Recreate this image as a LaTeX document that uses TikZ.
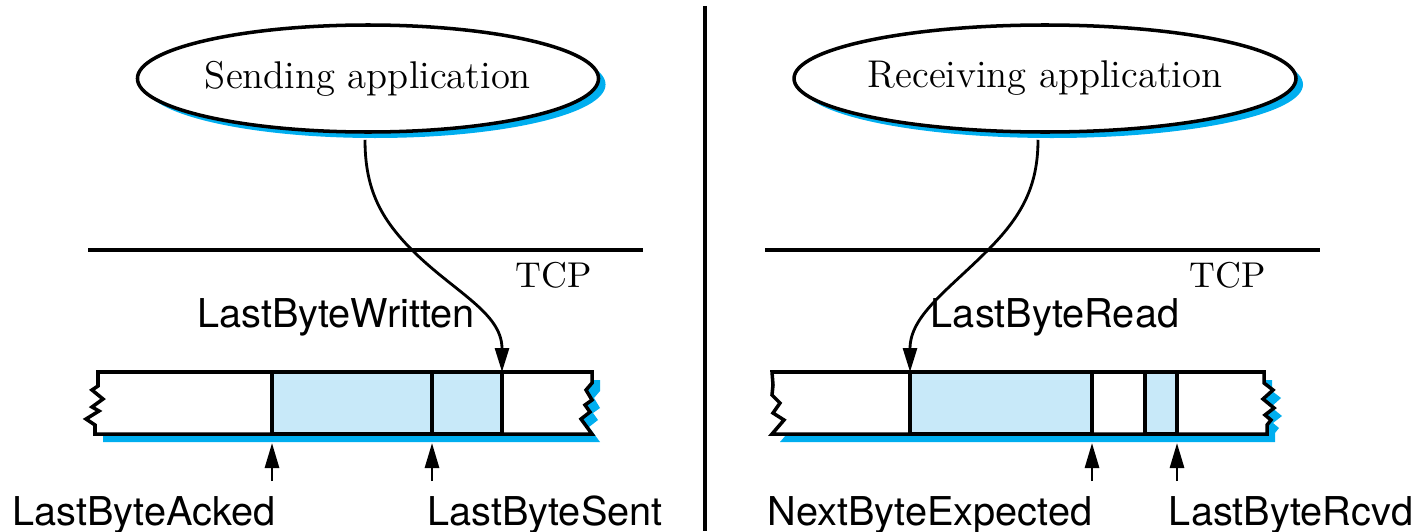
\documentclass[tikz,border=0pt]{standalone}
\usepackage{fontspec}
\setsansfont{TeX Gyre Heros}
\usetikzlibrary{arrows.meta,shadows,shapes.geometric}

\definecolor{tcpblue}{HTML}{00AEEF}
\definecolor{tcplight}{HTML}{C8E9F9}

\tikzset{
  app/.style={ellipse, draw, line width=1pt, fill=white, inner sep=0pt,
    minimum width=4cm, minimum height=1.07cm, font=\fontsize{11}{13}\selectfont,
    drop shadow={shadow xshift=0.07cm, shadow yshift=-0.06cm, fill=tcpblue, opacity=1}},
  layer/.style={line width=0.9pt},
  tcplabel/.style={anchor=base, font=\fontsize{10.2}{12}\selectfont},
  ptr/.style={anchor=base, font=\sffamily\fontsize{11.3}{13}\selectfont},
  bufshadow/.style={fill=tcpblue},
  bufbox/.style={fill=white, draw, line width=1pt},
  slot/.style={fill=tcplight, draw, line width=1pt},
  ptrline/.style={line width=0.8pt, -{Triangle[length=0.24cm,width=0.14cm]}},
  ptrarrow/.style={line width=0.8pt, -{Triangle[length=0.25cm,width=0.14cm]}}
}

\begin{document}
\begin{tikzpicture}[x=1cm,y=1cm]
  \useasboundingbox (0,0) rectangle (14.15,-5.31);

  % sender and receiver side by side
  \draw [layer] (7.05,-0.06) -- (7.05,-5.31);

  %%% sending side
  \node [app] (sendapp) at (3.68,-0.785) {Sending application};
  \draw [layer] (0.88,-2.50) -- (6.43,-2.50);
  \node [tcplabel] (sendtcp) at (5.54,-2.87) {TCP};

  % send buffer, shadow first
  \foreach \dx/\look in {0.08/bufshadow, 0/bufbox}
    \path [\look, shift={(\dx,-\dx)}] (0.98,-3.72) -- (5.92,-3.72) -- (5.92,-3.83)
      -- (5.86,-3.90) -- (5.92,-4.00) -- (5.85,-4.05) -- (5.90,-4.12) -- (5.81,-4.19)
      -- (5.92,-4.34) -- (0.95,-4.34) -- (0.95,-4.25) -- (0.86,-4.19) -- (0.99,-4.11)
      -- (0.92,-4.07) -- (1.03,-3.99) -- (0.92,-3.90) -- (0.98,-3.86) -- cycle;
  \filldraw [slot] (2.72,-3.72) rectangle (4.32,-4.34);
  \filldraw [slot] (4.32,-3.72) rectangle (5.02,-4.34);

  \coordinate (lbw) at (5.02,-3.72);
  \coordinate (lbatip) at (2.72,-4.43);
  \coordinate (lbafoot) at (2.72,-4.81);
  \coordinate (lbstip) at (4.32,-4.43);
  \coordinate (lbsfoot) at (4.32,-4.81);

  \draw [ptrline] ([shift={(-0.03,-0.06)}]sendapp.south)
    to[out=-90,in=135] (4.12,-2.50) to[out=-45,in=90] (lbw);
  \node [ptr] (lbwlabel) at (3.36,-3.27) {LastByteWritten};

  \draw [ptrarrow] (lbafoot) -- (lbatip);
  \draw [ptrarrow] (lbsfoot) -- (lbstip);
  \node [ptr] (lbalabel) at (1.44,-5.25) {LastByteAcked};
  \node [ptr] (lbslabel) at (5.45,-5.25) {LastByteSent};

  %%% receiving side
  \node [app] (recvapp) at (10.45,-0.785) {Receiving application};
  \draw [layer] (7.65,-2.50) -- (13.20,-2.50);
  \node [tcplabel] (recvtcp) at (12.28,-2.87) {TCP};

  % receive buffer
  \foreach \dx/\look in {0.08/bufshadow, 0/bufbox}
    \path [\look, shift={(\dx,-\dx)}] (7.72,-3.72) -- (12.64,-3.72) -- (12.64,-3.83)
      -- (12.73,-3.90) -- (12.63,-3.99) -- (12.74,-4.08) -- (12.65,-4.15) -- (12.71,-4.20)
      -- (12.67,-4.25) -- (12.67,-4.34) -- (7.72,-4.34) -- (7.84,-4.20) -- (7.73,-4.13)
      -- (7.80,-4.03) -- (7.72,-3.95) -- (7.73,-3.85) -- cycle;
  \filldraw [slot] (9.10,-3.72) rectangle (10.92,-4.34);
  \filldraw [slot] (11.45,-3.72) rectangle (11.77,-4.34);

  \coordinate (lbr) at (9.10,-3.72);
  \coordinate (nbetip) at (10.92,-4.43);
  \coordinate (nbefoot) at (10.92,-4.81);
  \coordinate (lbrvtip) at (11.77,-4.43);
  \coordinate (lbrvfoot) at (11.77,-4.81);

  \draw [ptrline] ([shift={(-0.07,-0.06)}]recvapp.south)
    to[out=-90,in=45] (9.87,-2.51) to[out=-135,in=90] (lbr);
  \node [ptr] (lbrlabel) at (10.55,-3.27) {LastByteRead};

  \draw [ptrarrow] (nbefoot) -- (nbetip);
  \draw [ptrarrow] (lbrvfoot) -- (lbrvtip);
  \node [ptr] (nbelabel) at (9.30,-5.25) {NextByteExpected};
  \node [ptr] (lbrvlabel) at (12.91,-5.25) {LastByteRcvd};
\end{tikzpicture}
\end{document}
